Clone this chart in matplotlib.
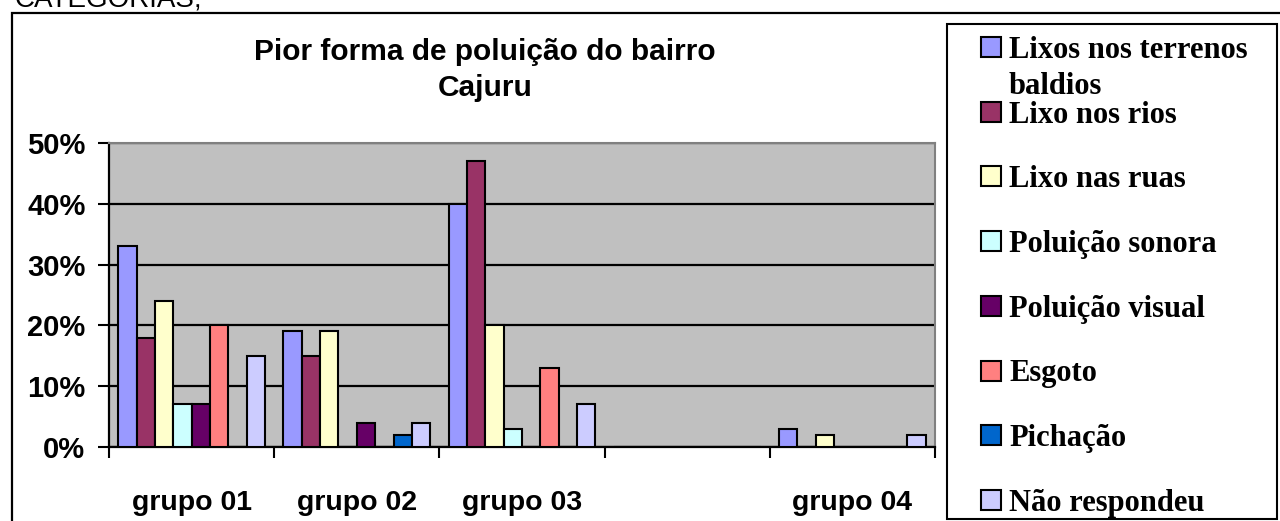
import matplotlib
matplotlib.use("Agg")
import matplotlib.pyplot as plt
from matplotlib.patches import Rectangle
from matplotlib.ticker import PercentFormatter, FixedLocator

groups = ["grupo 01", "grupo 02", "grupo 03", "", "grupo 04"]
series = [
    "Lixos nos terrenos\nbaldios",
    "Lixo nos rios",
    "Lixo nas ruas",
    "Poluição sonora",
    "Poluição visual",
    "Esgoto",
    "Pichação",
    "Não respondeu",
]
colors = ["#9999FF", "#993366", "#FFFFCC", "#CCFFFF", "#660066", "#FF8080", "#0066CC", "#CCCCFF"]

# values per series, one entry per group (fractions)
lixos_terrenos = [0.33, 0.19, 0.40, 0.0, 0.03]
lixo_rios = [0.18, 0.15, 0.47, 0.0, 0.0]
lixo_ruas = [0.24, 0.19, 0.20, 0.0, 0.02]
pol_sonora = [0.07, 0.0, 0.03, 0.0, 0.0]
pol_visual = [0.07, 0.04, 0.0, 0.0, 0.0]
esgoto = [0.20, 0.0, 0.13, 0.0, 0.0]
pichacao = [0.0, 0.02, 0.0, 0.0, 0.0]
nao_respondeu = [0.15, 0.04, 0.07, 0.0, 0.02]
values = [lixos_terrenos, lixo_rios, lixo_ruas, pol_sonora, pol_visual, esgoto, pichacao, nao_respondeu]

W, H = 1280, 521
fig = plt.figure(figsize=(W / 100, H / 100), dpi=100)


def fx(px):
    return px / W


def fy(py):
    return 1 - py / H


ax = fig.add_axes([fx(109), fy(447), fx(935 - 109), (447 - 143) / H])
ax.set_facecolor("#C0C0C0")

n = len(series)
bw = 1 / (n + 1)
for i, (vals, col) in enumerate(zip(values, colors)):
    xs = [g + (i + 1) * bw for g in range(len(groups))]
    ax.bar(xs, vals, width=bw, color=col, edgecolor="black", linewidth=1.5, zorder=3)

ax.set_xlim(0, len(groups))
ax.set_ylim(0, 0.5)
ax.set_yticks([0, 0.1, 0.2, 0.3, 0.4, 0.5])
ax.yaxis.set_major_formatter(PercentFormatter(1.0, decimals=0))
ax.yaxis.grid(True, color="black", linewidth=1.6, zorder=1)
ax.set_axisbelow(True)

ax.set_xticks([g + 0.5 for g in range(len(groups))])
ax.set_xticklabels(groups)
ax.xaxis.set_minor_locator(FixedLocator(list(range(len(groups) + 1))))
ax.tick_params(axis="x", which="major", length=0, pad=31)
ax.tick_params(axis="x", which="minor", length=8, width=1.5, direction="out")
ax.tick_params(axis="y", length=8, width=1.5, direction="out", pad=9)

for lab in ax.get_xticklabels():
    lab.set_fontfamily("Liberation Sans")
    lab.set_fontweight("bold")
    lab.set_fontsize(20.5)
for lab in ax.get_yticklabels():
    lab.set_fontfamily("Liberation Sans")
    lab.set_fontweight("bold")
    lab.set_fontsize(21)

for s in ["left", "bottom"]:
    ax.spines[s].set_color("black")
    ax.spines[s].set_linewidth(1.6)
for s in ["top", "right"]:
    ax.spines[s].set_color("#808080")
    ax.spines[s].set_linewidth(1.5)

# title
fig.text(fx(485), fy(70), "Pior forma de poluição do bairro\nCajuru",
         ha="center", va="center", fontsize=21.5, fontweight="bold",
         family="Liberation Sans", linespacing=1.38)

# clipped heading above the frame
fig.text(fx(15), fy(6), "CATEGORIAS;", ha="left", va="baseline",
         fontsize=20, family="Liberation Sans")

# outer frame
fig.patches.append(Rectangle((fx(12), fy(540)), fx(1300), (540 - 13) / H,
                             transform=fig.transFigure, fill=False,
                             edgecolor="black", linewidth=1.6))

# legend box
fig.patches.append(Rectangle((fx(947), fy(519)), fx(1277 - 947), (519 - 24) / H,
                             transform=fig.transFigure, facecolor="white",
                             edgecolor="black", linewidth=1.5, zorder=2))

for i, (label, col) in enumerate(zip(series, colors)):
    cy = 47 + i * 64.7
    fig.patches.append(Rectangle((fx(981), fy(cy + 10)), fx(20), 20 / H,
                                 transform=fig.transFigure, facecolor=col,
                                 edgecolor="black", linewidth=1.5, zorder=3))
    for k, line in enumerate(label.split("\n")):
        fig.text(fx(1009), fy(cy + k * 36), line, ha="left", va="center_baseline",
                 fontsize=22, fontweight="bold", family="Liberation Serif", zorder=4)

fig.savefig("out.png", dpi=100)
